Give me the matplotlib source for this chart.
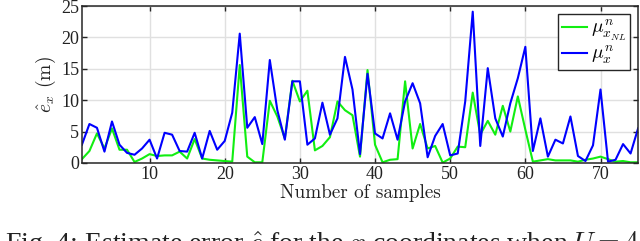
import matplotlib.pyplot as plt

# Data
samples = list(range(1, 76))
mu_x_nl = [0.6, 1.9, 4.7, 2.3, 5.5, 2.1, 2.1, 0.15, 0.7, 1.4,
           1.1, 1.2, 1.2, 1.8, 0.7, 3.8, 0.7, 0.5, 0.4, 0.3,
           0.2, 15.6, 1.0, 0.1, 0.1, 9.9, 7.4, 3.9, 13.1, 9.8,
           11.5, 2.0, 2.7, 4.1, 9.8, 8.4, 7.6, 1.0, 14.8, 2.9,
           0.1, 0.5, 0.6, 13.0, 2.3, 6.2, 2.3, 2.7, 0.05, 0.7,
           2.6, 2.5, 11.2, 4.5, 6.7, 4.5, 9.1, 5.0, 10.6, 5.3,
           0.2, 0.4, 0.6, 0.4, 0.4, 0.4, 0.2, 0.5, 0.7, 1.0,
           0.6, 0.2, 0.3, 0.1, 0.1]
mu_x = [2.9, 6.2, 5.6, 1.8, 6.6, 2.9, 1.6, 1.3, 2.3, 3.7,
        0.7, 4.8, 4.5, 1.9, 1.8, 4.8, 0.7, 5.1, 2.1, 3.5,
        8.0, 20.6, 5.6, 7.3, 3.0, 16.4, 8.4, 3.7, 13.0, 13.0,
        2.9, 3.9, 9.6, 4.5, 7.1, 16.9, 11.7, 1.4, 14.2, 4.7,
        3.9, 7.9, 3.7, 9.8, 12.7, 9.5, 0.9, 4.3, 6.2, 1.2,
        1.5, 9.8, 24.1, 2.7, 15.1, 7.1, 4.2, 9.5, 13.5, 18.5,
        1.9, 7.1, 1.0, 3.7, 3.1, 7.4, 1.1, 0.3, 2.8, 11.7,
        0.2, 0.5, 3.0, 1.5, 5.5]
xticks = [10, 20, 30, 40, 50, 60, 70]
yticks = [0, 5, 10, 15, 20, 25]

plt.rcParams['mathtext.fontset'] = 'cm'
plt.rcParams['font.family'] = 'serif'
plt.rcParams['font.serif'] = ['Liberation Serif', 'DejaVu Serif']

fig = plt.figure(figsize=(6.4, 2.41), dpi=100)
ax = fig.add_axes([0.128, 0.324, 0.869, 0.651])

ax.plot(samples, mu_x_nl, color='#11ee11', lw=1.5, label=r'$\mu^n_{x_{NL}}$')
ax.plot(samples, mu_x, color='#0000ff', lw=1.5, label=r'$\mu^n_x$')

ax.set_xlim(1, 75)
ax.set_ylim(0, 25)
ax.set_xticks(xticks)
ax.set_yticks(yticks)
ax.tick_params(direction='in', length=3.5, width=1, top=True, right=True,
               labelsize=13, colors='#262626', labelcolor='#222222', pad=2)
ax.grid(True, color='#e0e0e0', lw=1)
ax.set_axisbelow(True)
for s in ax.spines.values():
    s.set_color('#262626')
    s.set_linewidth(1.1)

ax.set_xlabel('Number of samples', fontsize=13.8, family='cmr10', color='#222222', labelpad=1)
ax.set_ylabel(r'$\hat{e}_x$ (m)', fontsize=14, family='cmr10', color='#222222', labelpad=2)

leg = ax.legend(loc='upper right', fontsize=14, frameon=True, fancybox=False,
                handlelength=1.3, handletextpad=0.2, borderpad=0.2,
                labelspacing=0.05, borderaxespad=0.4)
leg.get_frame().set_edgecolor('#262626')
leg.get_frame().set_linewidth(1)
leg.get_frame().set_alpha(1)

# caption, cut off at the bottom edge as in the source image
fig.text(0.008, 0.05, r'Fig. 4: Estimate error $\hat{e}$ for the $x$ coordinates when $U = 4$',
         fontsize=20, ha='left', va='top', color='#222222')

fig.savefig('out.png', dpi=100)
